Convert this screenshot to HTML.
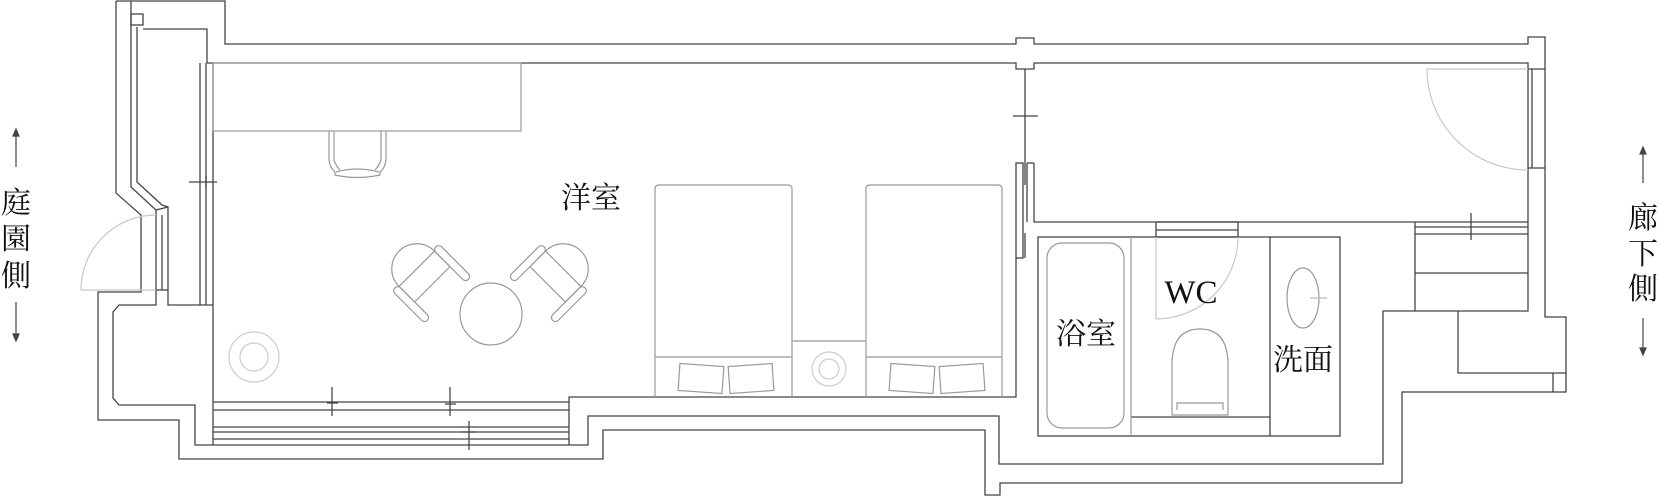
<!DOCTYPE html>
<html><head><meta charset="utf-8"><style>
html,body{margin:0;padding:0;background:#fff;}
svg{display:block;}
text{font-family:"Liberation Serif","Noto Serif CJK SC","Noto Sans CJK JP",serif;fill:#111;}
</style></head><body>
<svg width="1660" height="496" viewBox="0 0 1660 496" xmlns="http://www.w3.org/2000/svg">
<g fill="none" stroke="#444" stroke-width="1.3">
<polyline points="116,1 225,1 225,44 1016,44 1016,38 1034,38 1034,44 1528,44 1528,37 1545,37 1545,317 1566,317 1566,392 1402,392 1402,483 1000,483 1000,495 985,495 985,430 603,430 603,459 179,459 179,420 98,420 98,292 141,292 141,215 116,193 116,1"/>
<polyline points="207,63 1016,63 1016,69 1034,69 1034,63 1528,63 1528,311 1383,311 1383,464 999,464 999,416 588,416 588,445 569,445 569,397 1016,397 1016,258"/>
<polyline points="1034,163 1034,222 1528,222"/>
<polyline points="131,1 131,187 156,210 156,305 119,305 113,312 113,398 119,405 195,405 195,445 569,445"/>
<polyline points="143,29 207,29 207,63"/>
<polyline points="137,27 137,182 162,205 168,207 168,305 213,305"/>
<line x1="156" y1="210" x2="168" y2="207"/>
<rect x="131" y="14" width="12" height="11"/>
<line x1="162" y1="215" x2="162" y2="290"/>
<line x1="156" y1="290" x2="168" y2="290"/>
<line x1="200" y1="63" x2="200" y2="305"/>
<line x1="206" y1="63" x2="206" y2="305"/>
<line x1="213" y1="63" x2="213" y2="445"/>
<line x1="189" y1="182" x2="217" y2="182"/>
<line x1="206" y1="176" x2="206" y2="188"/>
<line x1="213" y1="402" x2="569" y2="402"/>
<line x1="213" y1="410" x2="569" y2="410"/>
<line x1="213" y1="427" x2="569" y2="427"/>
<line x1="213" y1="432" x2="569" y2="432"/>
<line x1="213" y1="439" x2="569" y2="439"/>
<line x1="332" y1="387" x2="332" y2="416"/><line x1="327" y1="403" x2="338" y2="403"/>
<line x1="450" y1="387" x2="450" y2="416"/><line x1="445" y1="404" x2="456" y2="404"/>
<line x1="469" y1="421" x2="469" y2="450"/><line x1="462" y1="432" x2="475" y2="432"/>
<line x1="1025" y1="69" x2="1025" y2="185"/>
<line x1="1013" y1="116" x2="1038" y2="116"/>
<rect x="1016" y="163" width="7" height="95"/>
<line x1="1027" y1="163" x2="1027" y2="222"/>
<line x1="1027" y1="163" x2="1034" y2="163"/>
<line x1="1025" y1="233" x2="1025" y2="258"/>
<rect x="1038" y="237" width="302" height="199"/>
<line x1="1270" y1="237" x2="1270" y2="436"/>
<rect x="1156" y="222" width="82" height="15"/>
<line x1="1156" y1="230" x2="1238" y2="230"/>
<line x1="1131" y1="417" x2="1270" y2="417"/>
<line x1="1532" y1="69" x2="1532" y2="168"/>
<line x1="1528" y1="69" x2="1545" y2="69"/>
<line x1="1528" y1="168" x2="1545" y2="168"/>
<line x1="1415" y1="227" x2="1528" y2="227"/>
<line x1="1415" y1="234" x2="1528" y2="234"/>
<polyline points="1415,222 1415,311"/>
<line x1="1415" y1="273" x2="1528" y2="273"/>
<line x1="1471" y1="213" x2="1471" y2="240"/>
<polyline points="1458,311 1458,373 1566,373"/>
<line x1="1553" y1="373" x2="1553" y2="392"/>
</g>
<g fill="none" stroke="#c8c8c8" stroke-width="1.2">
<path d="M81,290 A75,75 0 0 1 156,215"/>
<line x1="81" y1="290" x2="156" y2="290"/>
<path d="M1427,69 A101,101 0 0 0 1528,170"/>
<line x1="1427" y1="69" x2="1528" y2="69"/>
<path d="M1238,237 A82,82 0 0 1 1156,319"/>
<line x1="1156" y1="237" x2="1156" y2="319"/>
</g>
<g fill="none" stroke="#999" stroke-width="1.2">
<rect x="213" y="63" width="308" height="68"/>
<path d="M329,131 L329,160 Q330,168 335,172 L335,175 Q357,180 380,175 L380,172 Q385,168 386,160 L386,131"/>
<path d="M334,131 L334,160 Q336,166 340,170 M381,131 L381,160 Q379,166 375,170 M336,172 Q357,166 379,172"/>
<g transform="translate(421,273) rotate(-45)">
<path d="M-25,16 L-25,-6 A25,25 0 0 1 25,-6 L25,16 Z"/><line x1="-25" y1="-6" x2="25" y2="-6"/>
<rect x="-33" y="-8" width="8" height="46" rx="4"/><rect x="25" y="-8" width="8" height="46" rx="4"/>
</g>
<g transform="translate(559,273) rotate(45)">
<path d="M-25,16 L-25,-6 A25,25 0 0 1 25,-6 L25,16 Z"/><line x1="-25" y1="-6" x2="25" y2="-6"/>
<rect x="-33" y="-8" width="8" height="46" rx="4"/><rect x="25" y="-8" width="8" height="46" rx="4"/>
</g>
<circle cx="491" cy="314" r="31"/>
<g stroke="#ccc"><circle cx="254" cy="357" r="25"/><circle cx="254" cy="357" r="14"/>
<circle cx="829" cy="369" r="17"/><circle cx="829" cy="369" r="10"/></g>
<path d="M655,397 L655,189 Q655,185 659,185 L788,185 Q792,185 792,189 L792,397"/>
<line x1="655" y1="357" x2="792" y2="357"/>
<path d="M866,397 L866,189 Q866,185 870,185 L998,185 Q1002,185 1002,189 L1002,397"/>
<line x1="866" y1="357" x2="1002" y2="357"/>
<path d="M792,341 L866,341"/>
<rect x="679" y="365" width="44" height="27" transform="rotate(4 701 378)"/>
<rect x="729" y="365" width="44" height="27" transform="rotate(-4 751 378)"/>
<rect x="890" y="365" width="44" height="27" transform="rotate(4 912 378)"/>
<rect x="940" y="365" width="44" height="27" transform="rotate(-4 962 378)"/>
<rect x="1047" y="243" width="77" height="185" rx="15"/>
<line x1="1131" y1="237" x2="1131" y2="436"/>
<path d="M1172,415 L1172,365 Q1172,329 1200,329 Q1228,329 1228,365 L1228,415 Z"/>
<path d="M1177,410 L1177,403 L1223,403 L1223,410"/>
<ellipse cx="1303" cy="298" rx="16" ry="30"/>
<line x1="1310" y1="298" x2="1327" y2="298" stroke="#bbb"/>
</g>
<g stroke="#444" stroke-width="1.2" fill="#444">
<line x1="16" y1="134" x2="16" y2="167"/><path d="M13,136 L16,129 L19,136 Z"/>
<line x1="16" y1="302" x2="16" y2="336"/><path d="M13,334 L16,341 L19,334 Z"/>
<line x1="1643" y1="152" x2="1643" y2="183"/><path d="M1640,154 L1643,147 L1646,154 Z"/>
<line x1="1643" y1="318" x2="1643" y2="350"/><path d="M1640,348 L1643,355 L1646,348 Z"/>
</g>
<g font-size="30" text-anchor="middle">
<text x="16" y="213">庭</text><text x="16" y="249">園</text><text x="16" y="286">側</text>
<text x="1643" y="228">廊</text><text x="1643" y="264">下</text><text x="1643" y="299">側</text>
<text x="591" y="208">洋室</text>
<text x="1086" y="344">浴室</text>
<text x="1191" y="303" font-size="33">WC</text>
<text x="1303" y="370">洗面</text>
</g>
</svg>
</body></html>
